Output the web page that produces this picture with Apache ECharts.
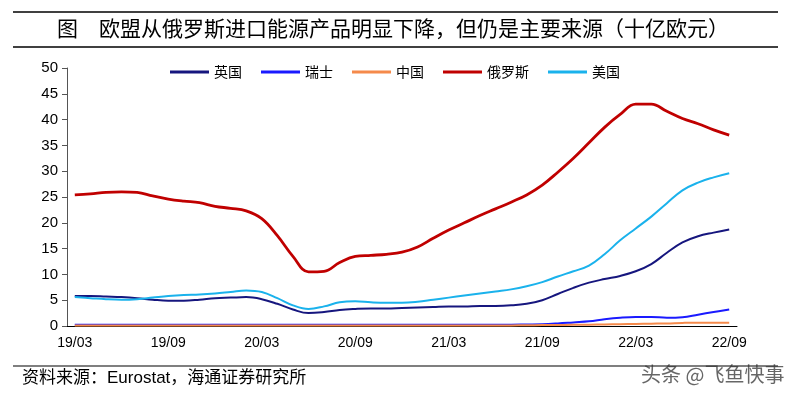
<!DOCTYPE html>
<html>
<head>
<meta charset="utf-8">
<script src="https://cdn.jsdelivr.net/npm/echarts@6/dist/echarts.min.js"></script>
<style>
    html, body {margin: 0; padding: 0; background: #fff;}
    #chart {width: 800px; height: 396px;}
</style>
</head>
<body>
<div id="chart"></div>
<script>
var months = [
    '19/03', '19/04', '19/05', '19/06', '19/07', '19/08', '19/09', '19/10', '19/11', '19/12',
    '20/01', '20/02', '20/03', '20/04', '20/05', '20/06', '20/07', '20/08', '20/09', '20/10',
    '20/11', '20/12', '21/01', '21/02', '21/03', '21/04', '21/05', '21/06', '21/07', '21/08',
    '21/09', '21/10', '21/11', '21/12', '22/01', '22/02', '22/03', '22/04', '22/05', '22/06',
    '22/07', '22/08', '22/09'
];

/* 十亿欧元, monthly */
var uk = [
    5.8, 5.8, 5.7, 5.6, 5.4, 5.1, 4.9, 4.9, 5.1, 5.4,
    5.5, 5.6, 5.2, 4.3, 3.2, 2.5, 2.7, 3.1, 3.3, 3.4,
    3.4, 3.5, 3.6, 3.7, 3.8, 3.8, 3.9, 3.9, 4.0, 4.3,
    5.0, 6.2, 7.4, 8.4, 9.1, 9.7, 10.6, 12.0, 14.2, 16.2,
    17.4, 18.1, 18.7
];
var swiss = [
    0.25, 0.25, 0.25, 0.25, 0.25, 0.25, 0.25, 0.25, 0.25, 0.25,
    0.25, 0.25, 0.25, 0.25, 0.25, 0.25, 0.25, 0.25, 0.25, 0.25,
    0.25, 0.25, 0.25, 0.25, 0.25, 0.25, 0.25, 0.25, 0.25, 0.3,
    0.35, 0.5, 0.7, 0.9, 1.3, 1.6, 1.75, 1.75, 1.6, 1.7,
    2.2, 2.7, 3.2
];
var china = [
    0.1, 0.1, 0.1, 0.1, 0.1, 0.1, 0.1, 0.1, 0.1, 0.1,
    0.1, 0.1, 0.1, 0.1, 0.1, 0.1, 0.1, 0.1, 0.1, 0.1,
    0.1, 0.1, 0.1, 0.1, 0.1, 0.1, 0.1, 0.1, 0.12, 0.15,
    0.18, 0.2, 0.22, 0.25, 0.3, 0.35, 0.4, 0.45, 0.5, 0.6,
    0.65, 0.65, 0.65
];
var russia = [
    25.4, 25.6, 25.9, 26.0, 25.9, 25.2, 24.6, 24.2, 23.9, 23.2,
    22.8, 22.3, 20.8, 17.5, 13.5, 10.5, 10.6, 12.3, 13.5, 13.7,
    13.9, 14.3, 15.3, 17.0, 18.6, 20.0, 21.4, 22.7, 24.0, 25.4,
    27.3, 29.8, 32.5, 35.5, 38.5, 41.0, 43.0, 43.0, 41.6, 40.2,
    39.2, 38.0, 37.0
];
var usa = [
    5.6, 5.4, 5.2, 5.1, 5.2, 5.5, 5.8, 6.0, 6.1, 6.3,
    6.6, 6.9, 6.6, 5.4, 4.0, 3.3, 3.8, 4.6, 4.8, 4.6,
    4.5, 4.5, 4.7, 5.1, 5.5, 5.9, 6.3, 6.7, 7.1, 7.7,
    8.5, 9.6, 10.6, 11.7, 13.9, 16.6, 18.9, 21.2, 23.8, 26.3,
    27.8, 28.8, 29.6
];

var seriesNames  = ['英国', '瑞士', '中国', '俄罗斯', '美国'];
var seriesData   = [uk, swiss, china, russia, usa];
var seriesColors = ['#16167e', '#1a1aff', '#f58a4b', '#c00000', '#1ab2ec'];
var seriesWidths = [2, 2, 2, 2.8, 2];

var titleText  = '图　欧盟从俄罗斯进口能源产品明显下降，但仍是主要来源（十亿欧元）';
var sourceText = '资料来源：Eurostat，海通证券研究所';
var markText   = '头条 @飞鱼快事';

var cjkFont   = '"Noto Sans CJK SC", "Noto Sans", sans-serif';
var latinFont = '"Liberation Sans", Arial, sans-serif';
var mixFont   = '"Liberation Sans", "Noto Sans CJK SC", sans-serif';

var chart = echarts.init(document.getElementById('chart'), null, {renderer: 'canvas'});

var series = seriesNames.map(function(name, i)
{
    return {
        name: name,
        type: 'line',
        data: seriesData[i],
        smooth: 0.4,
        symbol: 'none',
        z: i == 3 ? 4 : 3,
        lineStyle: {color: seriesColors[i], width: seriesWidths[i]},
        itemStyle: {color: seriesColors[i]}
    };
});

var option =
{
    backgroundColor: '#fff',
    animation: false,
    textStyle: {fontFamily: cjkFont},
    grid: {left: 67, right: 63, top: 68, bottom: 70},
    legend:
    {
        data: seriesNames,
        icon: 'rect',
        left: 165,
        top: 60,
        itemWidth: 39,
        itemHeight: 3,
        itemGap: 19,
        textStyle: {fontSize: 14, color: '#000', fontFamily: cjkFont}
    },
    xAxis:
    {
        type: 'category',
        data: months,
        boundaryGap: true,
        axisLine: {lineStyle: {color: '#000', width: 1}},
        axisTick: {interval: 5, length: 5, lineStyle: {color: '#000'}},
        axisLabel: {interval: 5, color: '#000', fontSize: 14, fontFamily: latinFont, margin: 10}
    },
    yAxis:
    {
        type: 'value',
        min: 0,
        max: 50,
        interval: 5,
        axisLine: {show: true, lineStyle: {color: '#555', width: 1}},
        axisTick: {show: true, length: 5, lineStyle: {color: '#555'}},
        axisLabel: {color: '#000', fontSize: 15, fontFamily: latinFont, margin: 9},
        splitLine: {show: false}
    },
    graphic:
    [
        {type: 'line', shape: {x1: 13, y1: 12, x2: 778, y2: 12}, style: {stroke: '#000', lineWidth: 1.5}},
        {type: 'line', shape: {x1: 13, y1: 47, x2: 778, y2: 47}, style: {stroke: '#000', lineWidth: 1.5}},
        {type: 'line', shape: {x1: 13, y1: 366, x2: 778, y2: 366}, style: {stroke: '#000', lineWidth: 1.2}},
        {
            type: 'text', left: 57, top: 18,
            style: {text: titleText, fill: '#000', font: '21px ' + cjkFont}
        },
        {
            type: 'text', left: 22, top: 370,
            style: {text: sourceText, fill: '#000', font: '17px ' + mixFont}
        },
        {
            type: 'text', left: 641, top: 364, z: 10,
            style: {text: markText, fill: '#333', opacity: 0.75, font: '20px ' + cjkFont}
        }
    ],
    series: series
};

chart.setOption(option);
</script>
</body>
</html>
